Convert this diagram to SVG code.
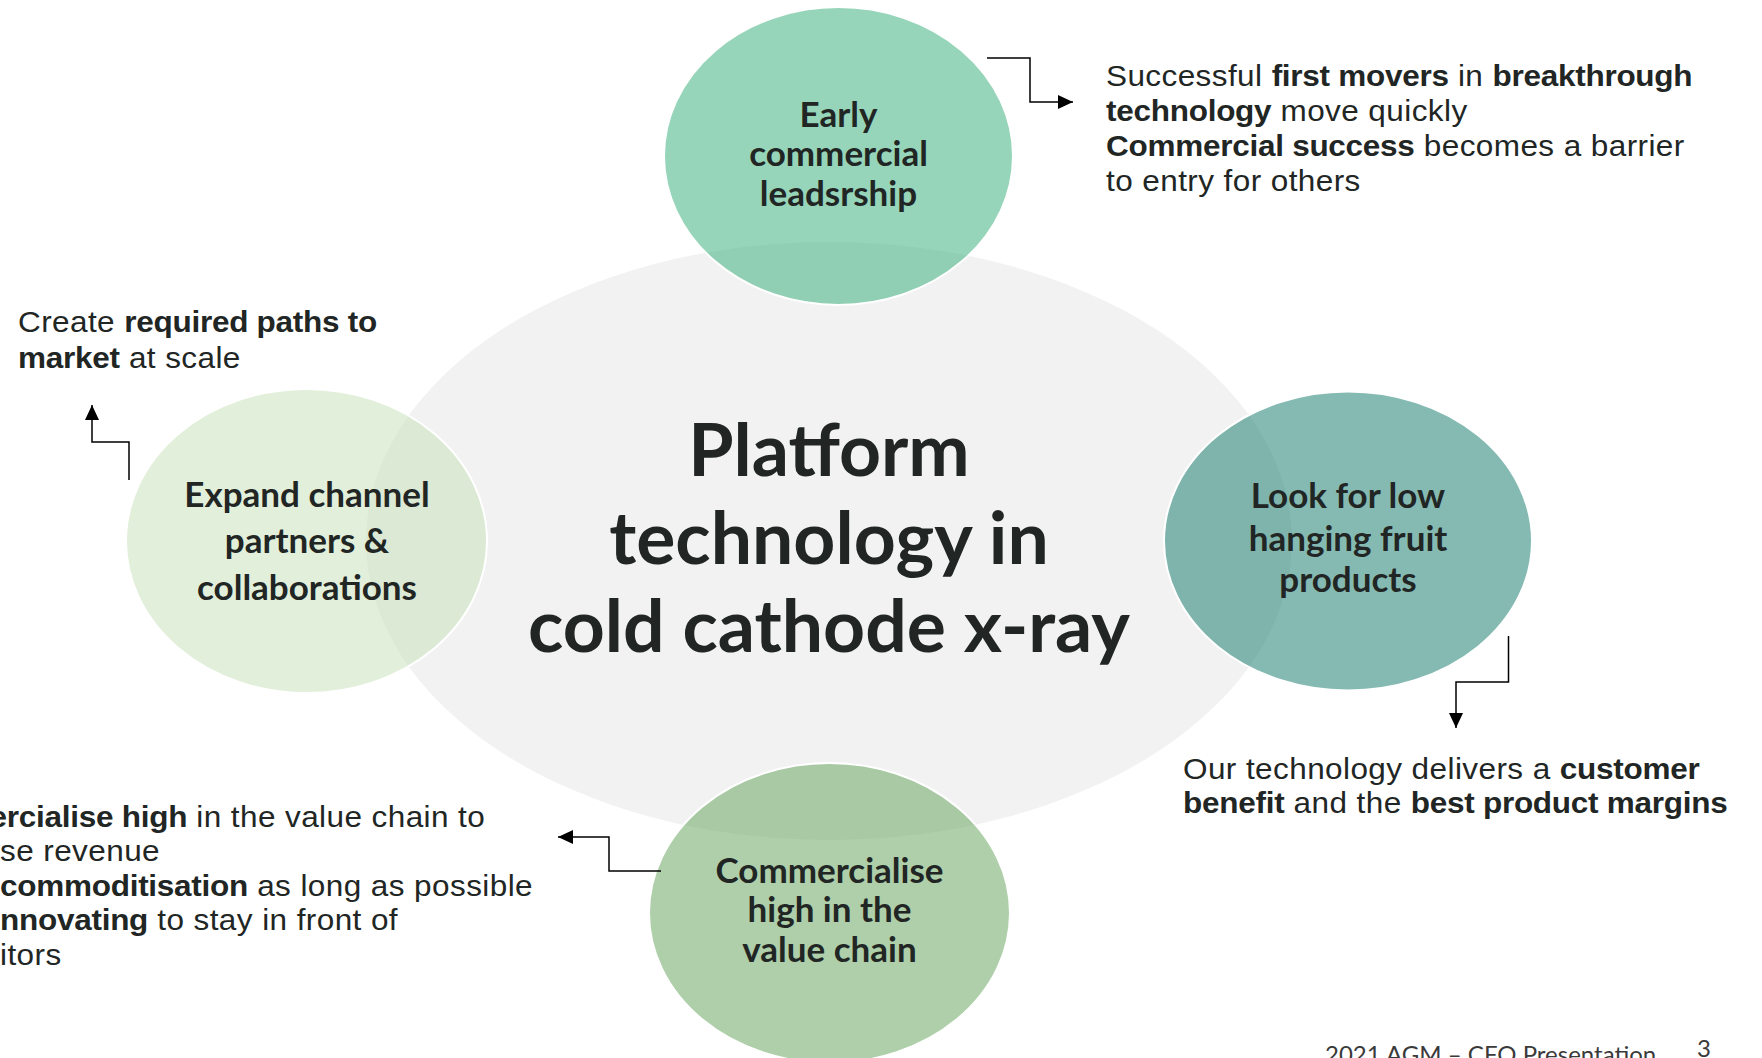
<svg xmlns="http://www.w3.org/2000/svg" width="1762" height="1058" viewBox="0 0 1762 1058">
<defs>
<marker id="arr" markerUnits="userSpaceOnUse" markerWidth="16" markerHeight="15" refX="15" refY="7" orient="auto">
<path d="M0,0 L15,7 L0,14 Z" fill="#000"/>
</marker>
<style>
.node{stroke:#fff;stroke-width:2;fill-opacity:0.5}
.nt{font-family:Lato,"Open Sans",sans-serif;font-weight:700;font-size:35px;fill:#212624;text-anchor:middle}
.ct{font-family:Lato,"Open Sans",sans-serif;font-weight:700;font-size:73.3px;fill:#212624;text-anchor:middle}
.bt{font-family:"Liberation Sans",Arial,sans-serif;font-size:30px;fill:#212624;letter-spacing:0.4px}
.b{font-weight:700;letter-spacing:-0.25px}
.conn{fill:none;stroke:#000;stroke-width:1.5;marker-end:url(#arr)}
.ft{font-family:Lato,"Open Sans",sans-serif;font-size:24px;fill:#3a3a3a}
</style>
</defs>
<rect width="1762" height="1058" fill="#fff"/>
<g id="node-center">
<ellipse cx="829" cy="541" rx="463" ry="299" fill="#f2f2f2"/>
<text class="ct"><tspan x="829" y="476">Platform</tspan><tspan x="829" y="564">technology in</tspan><tspan x="829" y="652">cold cathode x-ray</tspan></text>
</g>
<g id="node-top">
<ellipse class="node" cx="838.5" cy="156" rx="174.5" ry="149" fill="#2dab73"/>
<text class="nt"><tspan x="838.5" y="127">Early</tspan><tspan x="838.5" y="166">commercial</tspan><tspan x="838.5" y="206">leadsrship</tspan></text>
</g>
<g id="node-left">
<ellipse class="node" cx="306.5" cy="541" rx="180.5" ry="152" fill="#c5dfb5"/>
<text class="nt"><tspan x="307" y="507">Expand channel</tspan><tspan x="307" y="553">partners &amp;</tspan><tspan x="307" y="600">collaborations</tspan></text>
</g>
<g id="node-right">
<ellipse class="node" cx="1348" cy="541" rx="184" ry="149.5" fill="#0b7567"/>
<text class="nt"><tspan x="1348" y="508">Look for low</tspan><tspan x="1348" y="551">hanging fruit</tspan><tspan x="1348" y="592">products</tspan></text>
</g>
<g id="node-bottom">
<ellipse class="node" cx="829.5" cy="913" rx="180.5" ry="150" fill="#5d9f53"/>
<text class="nt"><tspan x="829.5" y="883">Commercialise</tspan><tspan x="829.5" y="922">high in the</tspan><tspan x="829.5" y="962">value chain</tspan></text>
</g>
<g id="connectors">
<path class="conn" d="M987,58 H1030 V102 H1073"/>
<path class="conn" d="M129,480 V442 H92 V405"/>
<path class="conn" d="M1508.5,636 V682 H1456 V728"/>
<path class="conn" d="M661,871 H609 V837 H558"/>
</g>
<g id="label-top-right" transform="translate(1106,0) scale(1.05,1)">
<text class="bt"><tspan x="0" y="86">Successful <tspan class="b">first movers</tspan> in <tspan class="b">breakthrough</tspan></tspan><tspan x="0" y="121"><tspan class="b">technology</tspan> move quickly</tspan><tspan x="0" y="156"><tspan class="b">Commercial success</tspan> becomes a barrier</tspan><tspan x="0" y="191">to entry for others</tspan></text>
</g>
<g id="label-left" transform="translate(18,0) scale(1.05,1)">
<text class="bt"><tspan x="0" y="332">Create <tspan class="b">required paths to</tspan></tspan><tspan x="0" y="368"><tspan class="b">market</tspan> at scale</tspan></text>
</g>
<g id="label-right" transform="translate(1183,0) scale(1.05,1)">
<text class="bt"><tspan x="0" y="779">Our technology delivers a <tspan class="b">customer</tspan></tspan><tspan x="0" y="813"><tspan class="b">benefit</tspan> and the <tspan class="b">best product margins</tspan></tspan></text>
</g>
<g id="label-bottom-left" transform="translate(0,0) scale(1.05,1)">
<text class="bt"><tspan x="-10" y="827"><tspan class="b">ercialise high</tspan> in the value chain to</tspan><tspan x="0" y="861.5">se revenue</tspan><tspan x="0" y="896"><tspan class="b">commoditisation</tspan> as long as possible</tspan><tspan x="0" y="930.5"><tspan class="b">nnovating</tspan> to stay in front of</tspan><tspan x="0" y="965">itors</tspan></text>
</g>
<g id="footer">
<text class="ft" x="1325" y="1063">2021 AGM – CFO Presentation</text>
<text class="ft" x="1697" y="1057">3</text>
</g>
</svg>
